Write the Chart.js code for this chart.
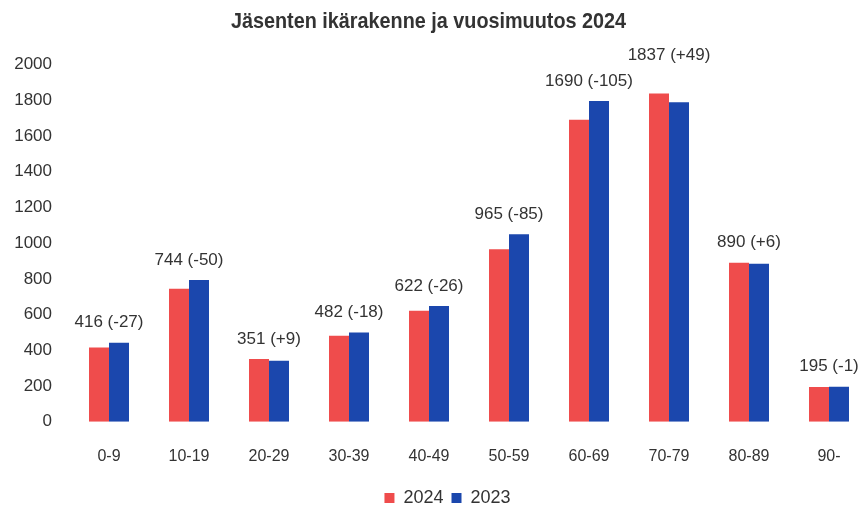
<!DOCTYPE html>
<html>
<head>
<meta charset="utf-8">
<script src="https://cdn.jsdelivr.net/npm/chart.js@4"></script>
<style>
  html, body { margin: 0; padding: 0; background: #fff; overflow: hidden; }
  #wrap { width: 863px; height: 506px; }
</style>
</head>
<body>
<div id="wrap"><canvas id="ageChart" width="863" height="506"></canvas></div>
<script>
// age groups and member counts
const ageGroups = ["0-9", "10-19", "20-29", "30-39", "40-49", "50-59", "60-69", "70-79", "80-89", "90-"];
const members2024 = [416, 744, 351, 482, 622, 965, 1690, 1837, 890, 195];
const members2023 = [443, 794, 342, 500, 648, 1050, 1795, 1788, 884, 196];
const changeLabels = ["-27", "-50", "+9", "-18", "-26", "-85", "-105", "+49", "+6", "-1"];
const yTicks = [0, 200, 400, 600, 800, 1000, 1200, 1400, 1600, 1800, 2000];

const chartTitle = "Jäsenten ikärakenne ja vuosimuutos 2024";
const textColor = "#333333";
const baseFont = "'Liberation Sans', Arial, sans-serif";

// draws "416 (-27)" above each pair of bars, nudging a label up if it hits the previous one
const groupLabels = {
  id: "groupLabels",
  afterDatasetsDraw(chart) {
    const ctx = chart.ctx;
    const a = chart.getDatasetMeta(0).data;
    const b = chart.getDatasetMeta(1).data;
    ctx.save();
    ctx.font = "17px " + baseFont;
    ctx.fillStyle = textColor;
    ctx.textAlign = "center";
    ctx.textBaseline = "middle";
    let prev = null;
    ageGroups.forEach((g, i) => {
      const text = `${members2024[i]} (${changeLabels[i]})`;
      const w = ctx.measureText(text).width;
      const x = (a[i].x + b[i].x) / 2;
      let y = Math.min(a[i].y, b[i].y) - 20;
      if (prev && x - w / 2 < prev.right && Math.abs(y - prev.y) < 22) {
        y = prev.y - 26;
      }
      ctx.fillText(text, x, y);
      prev = { right: x + w / 2, y };
    });
    ctx.restore();
  }
};

// the original title is set in a condensed bold face, so squeeze it a little
const narrowTitle = {
  id: "narrowTitle",
  afterDraw(chart) {
    const tb = chart.titleBlock;
    const ctx = chart.ctx;
    ctx.save();
    ctx.font = "bold 22px " + baseFont;
    ctx.fillStyle = textColor;
    ctx.textAlign = "center";
    ctx.textBaseline = "middle";
    ctx.translate((tb.left + tb.right) / 2 - 3, tb.top + 10 + 12);
    ctx.scale(0.9, 1);
    ctx.fillText(chartTitle, 0, 0);
    ctx.restore();
  }
};

// legend sits a bit right of centre in the original
const legendShift = {
  id: "legendShift",
  afterLayout(chart) {
    chart.legend.left += 16;
    chart.legend.right += 16;
  }
};

const toPoints = arr => arr.map((v, i) => ({ x: i, y: v }));

new Chart(document.getElementById("ageChart"), {
  type: "bar",
  data: {
    datasets: [
      { label: "2024", data: toPoints(members2024), backgroundColor: "#EF4C4C" },
      { label: "2023", data: toPoints(members2023), backgroundColor: "#1B47AD" }
    ]
  },
  options: {
    responsive: false,
    animation: false,
    layout: { padding: { left: 0, right: 0, top: 0, bottom: -11 } },
    datasets: { bar: { categoryPercentage: 0.5, barPercentage: 1.0 } },
    scales: {
      x: {
        type: "linear",
        offset: false,
        min: -0.6125,
        max: 9.425,
        afterBuildTicks(axis) { axis.ticks = ageGroups.map((g, i) => ({ value: i })); },
        afterFit(axis) {
          axis.height -= 2;
          axis.paddingLeft = 0;
          axis.paddingRight = 0;
        },
        grid: { display: false },
        border: { display: false },
        ticks: {
          color: textColor,
          font: { size: 16, family: baseFont },
          padding: 17,
          autoSkip: false,
          maxRotation: 0,
          callback: v => ageGroups[v]
        }
      },
      y: {
        min: 0,
        max: 2000,
        afterBuildTicks(axis) { axis.ticks = yTicks.map(v => ({ value: v })); },
        afterFit(axis) { axis.width = 60; },
        grid: { display: false },
        border: { display: false },
        ticks: { color: textColor, font: { size: 17, family: baseFont }, padding: 0, callback: v => String(v) }
      }
    },
    plugins: {
      title: {
        display: true,
        text: chartTitle,
        color: "rgba(0,0,0,0)",
        font: { size: 22, weight: "bold", family: baseFont },
        padding: { top: 10, bottom: 28 }
      },
      legend: {
        position: "bottom",
        labels: { color: textColor, font: { size: 18, family: baseFont }, boxWidth: 10, boxHeight: 10, padding: 8 }
      },
      tooltip: { enabled: false }
    }
  },
  plugins: [groupLabels, narrowTitle, legendShift]
});
</script>
</body>
</html>
